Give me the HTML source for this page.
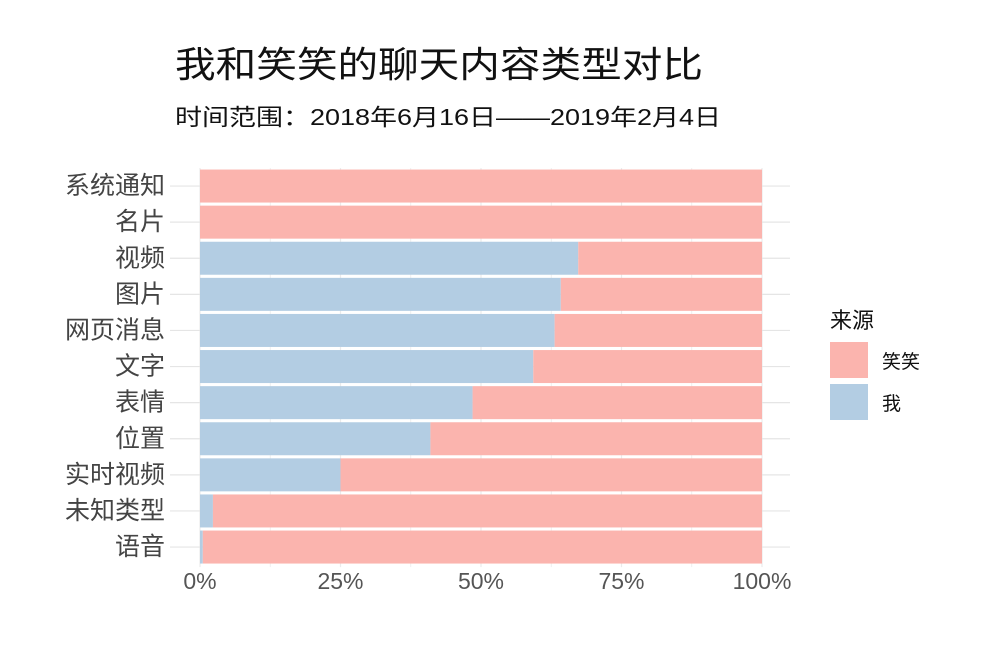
<!DOCTYPE html>
<html><head><meta charset="utf-8"><style>
body{margin:0;background:#fff;font-family:"Liberation Sans","Noto Sans CJK SC",sans-serif;}
</style></head><body>
<svg id="chart" width="1000" height="650" xmlns="http://www.w3.org/2000/svg" style="font-family:'Liberation Sans','Noto Sans CJK SC',sans-serif">
<text x="175" y="77" font-size="36" fill="#111" textLength="528" lengthAdjust="spacingAndGlyphs">我和笑笑的聊天内容类型对比</text>
<text x="175" y="125" font-size="23" fill="#111" textLength="546" lengthAdjust="spacingAndGlyphs">时间范围：2018年6月16日——2019年2月4日</text>
<g id="grid"></g>
<g id="bars"></g>
<g id="ylabels"></g>
<g id="xlabels"></g>
<g>
<text x="830" y="328" font-size="22" fill="#111">来源</text>
<rect x="830" y="342" width="38" height="36" fill="#FBB4AE"/>
<text x="882" y="368" font-size="19" fill="#111">笑笑</text>
<rect x="830" y="384" width="38" height="36" fill="#B3CDE3"/>
<text x="882" y="410" font-size="19" fill="#111">我</text>
</g>
</svg>
<script>
const categories=["系统通知","名片","视频","图片","网页消息","文字","表情","位置","实时视频","未知类型","语音"];
const meShare=[0,0,0.673,0.642,0.631,0.593,0.485,0.410,0.250,0.023,0.005];
const xTicks=[0,0.25,0.5,0.75,1];
const xTickLabels=["0%","25%","50%","75%","100%"];
const NS="http://www.w3.org/2000/svg";
const x0=200,x1=762,yTop=168,step=36.1;
const xs=v=>x0+v*(x1-x0);
const yc=i=>yTop+step*(i+0.5);
function mk(t,a,p){const e=document.createElementNS(NS,t);for(const k in a)e.setAttribute(k,a[k]);p.appendChild(e);return e;}
const grid=document.getElementById('grid'),bars=document.getElementById('bars'),yl=document.getElementById('ylabels'),xl=document.getElementById('xlabels');
for(let k=0;k<=8;k++){const l=mk('line',{x1:xs(k/8),x2:xs(k/8),y1:yTop,y2:yTop+step*categories.length+2,stroke:'#ebebeb','stroke-width':k%2?0.8:1.2},grid);
}
categories.forEach((c,i)=>{
const g=mk('line',{x1:170,x2:790,y1:yc(i),y2:yc(i),stroke:'#e5e5e5','stroke-width':1.2},grid);

const h=33,y=yc(i)-h/2;
const b1=mk('rect',{x:xs(0),y:y,width:xs(meShare[i])-xs(0),height:h,fill:'#B3CDE3'},bars);

const b2=mk('rect',{x:xs(meShare[i]),y:y,width:xs(1)-xs(meShare[i]),height:h,fill:'#FBB4AE'},bars);

const t=mk('text',{x:165,y:yc(i)+8,'font-size':25,fill:'#444','text-anchor':'end'},yl);t.textContent=c;

});
xTicks.forEach((v,i)=>{const t=mk('text',{x:xs(v),y:589,'font-size':23,fill:'#555','text-anchor':'middle'},xl);t.textContent=xTickLabels[i];
});
</script>
</body></html>
